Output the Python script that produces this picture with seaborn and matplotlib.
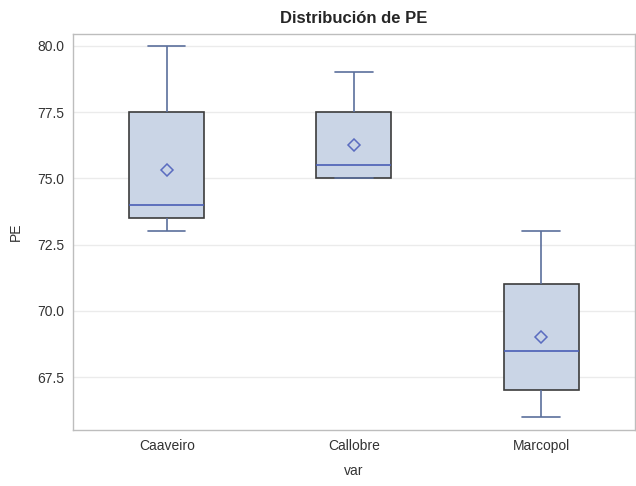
import matplotlib
matplotlib.use("Agg")
from matplotlib import pyplot as plt
from matplotlib.ticker import MultipleLocator, FormatStrFormatter
import seaborn as sns
import pandas as pd

# PE values per site (chosen to reproduce the box statistics in the picture)
caaveiro = [73, 73.5, 73.5, 74, 74, 75, 77.5, 77.5, 80]
callobre = [75, 75, 75, 75, 75.5, 76.75, 77.5, 77.5, 79]
marcopol = [66, 66.5, 67, 68, 68.5, 69, 71, 72, 73]
sites = ["Caaveiro", "Callobre", "Marcopol"]

df = pd.DataFrame({
    "var": [sites[0]] * len(caaveiro) + [sites[1]] * len(callobre) + [sites[2]] * len(marcopol),
    "PE": caaveiro + callobre + marcopol,
})

sns.set_style("white")
plt.rcParams["font.family"] = ["Liberation Sans", "DejaVu Sans"]

fig = plt.figure(figsize=(6.36, 4.86), dpi=100)
ax = fig.add_axes([0.115, 0.115, 0.883, 0.815])

line_blue = "#5b6f9c"
sns.boxplot(data=df, x="var", y="PE", order=sites, ax=ax,
            color="#cad5e6", saturation=1, width=0.4, whis=1.5,
            showmeans=True, fliersize=0,
            boxprops=dict(edgecolor="#3c3c3c", linewidth=1.2),
            whiskerprops=dict(color=line_blue, linewidth=1.2),
            capprops=dict(color=line_blue, linewidth=1.2),
            medianprops=dict(color="#4a5fb5", linewidth=1.2),
            meanprops=dict(marker="D", markerfacecolor="none",
                           markeredgecolor="#5a6cc0", markersize=6,
                           markeredgewidth=1.1))

ax.set_xlim(-0.5, 2.5)
ax.set_ylim(65.5, 80.45)
ax.yaxis.set_major_locator(MultipleLocator(2.5))
ax.yaxis.set_major_formatter(FormatStrFormatter("%.1f"))
ax.yaxis.grid(True, color="#ebebeb", linewidth=1)
ax.set_axisbelow(True)

for s in ax.spines.values():
    s.set_color("#bdbdbd")
    s.set_linewidth(1)

ax.tick_params(axis="both", labelsize=10, colors="#333333", length=3,
               color="#bdbdbd", direction="out")
ax.set_xlabel("var", fontsize=10, color="#333333", labelpad=8)
ax.set_ylabel("PE", fontsize=10, color="#333333", labelpad=10)
ax.set_title("Distribución de PE", fontsize=12, fontweight="bold", pad=8)

fig.savefig("out.png", dpi=100)
